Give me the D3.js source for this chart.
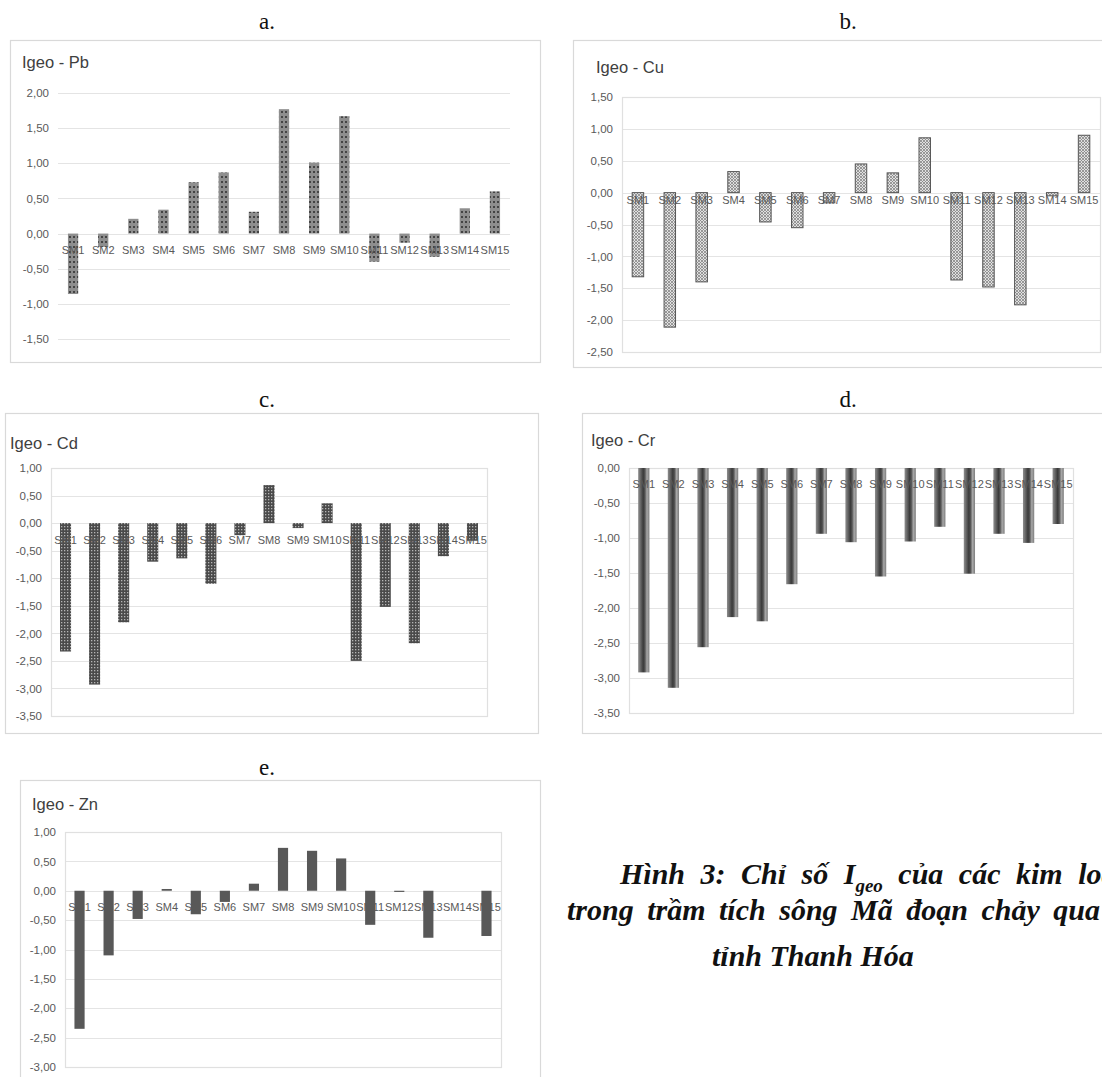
<!DOCTYPE html>
<html><head><meta charset="utf-8">
<script src="https://cdn.jsdelivr.net/npm/d3@7/dist/d3.min.js"></script>
<style>
html,body{margin:0;padding:0;background:#fff;}
svg{display:block;}
</style></head>
<body>
<svg id="chart" width="1102" height="1077"></svg>
<script>
// ---------- DATA ----------
const categories = ["SM1","SM2","SM3","SM4","SM5","SM6","SM7","SM8","SM9","SM10","SM11","SM12","SM13","SM14","SM15"];
const pbValues = [-0.86,-0.19,0.21,0.34,0.73,0.87,0.31,1.77,1.01,1.67,-0.40,-0.13,-0.33,0.36,0.60];
const cuValues = [-1.32,-2.11,-1.40,0.33,-0.46,-0.55,-0.16,0.45,0.31,0.86,-1.37,-1.48,-1.76,-0.05,0.90];
const cdValues = [-2.33,-2.93,-1.80,-0.70,-0.64,-1.10,-0.22,0.69,-0.09,0.36,-2.50,-1.52,-2.18,-0.60,-0.32];
const crValues = [-2.92,-3.14,-2.56,-2.13,-2.19,-1.66,-0.94,-1.06,-1.55,-1.05,-0.84,-1.51,-0.94,-1.07,-0.80];
const znValues = [-2.35,-1.10,-0.48,0.03,-0.40,-0.19,0.12,0.73,0.68,0.55,-0.58,-0.02,-0.80,0.00,-0.77];
const pbTicks = [2,1.5,1,0.5,0,-0.5,-1,-1.5];
const cuTicks = [1.5,1,0.5,0,-0.5,-1,-1.5,-2,-2.5];
const cdTicks = [1,0.5,0,-0.5,-1,-1.5,-2,-2.5,-3,-3.5];
const crTicks = [0,-0.5,-1,-1.5,-2,-2.5,-3,-3.5];
const znTicks = [1,0.5,0,-0.5,-1,-1.5,-2,-2.5,-3];
const titles = ["Igeo - Pb","Igeo - Cu","Igeo - Cd","Igeo - Cr","Igeo - Zn"];
const panelLetters = ["a.","b.","c.","d.","e."];

// ---------- DRAW ----------
const svg = d3.select("#chart");
const defs = svg.append("defs");

const pPb = defs.append("pattern").attr("id","patPb").attr("patternUnits","userSpaceOnUse").attr("width",4).attr("height",5);
pPb.append("rect").attr("width",4).attr("height",5).attr("fill","#8e8e8e");
pPb.append("rect").attr("x",1).attr("y",1).attr("width",2).attr("height",2).attr("fill","#444");

const pCu = defs.append("pattern").attr("id","patCu").attr("patternUnits","userSpaceOnUse").attr("width",3).attr("height",3);
pCu.append("rect").attr("width",3).attr("height",3).attr("fill","#e0e0e0");
pCu.append("path").attr("d","M0,0L3,3M3,0L0,3").attr("stroke","#858585").attr("stroke-width",0.8);

const pCd = defs.append("pattern").attr("id","patCd").attr("patternUnits","userSpaceOnUse").attr("width",3).attr("height",3);
pCd.append("rect").attr("width",3).attr("height",3).attr("fill","#4a4a4a");
pCd.append("rect").attr("x",1).attr("y",1).attr("width",1.3).attr("height",1.3).attr("fill","#b5b5b5");

const gCr = defs.append("linearGradient").attr("id","gradCr").attr("x1","0").attr("x2","1").attr("y1","0").attr("y2","0");
[[0,"#8e8e8e"],[0.2,"#6a6a6a"],[0.45,"#3a3a3a"],[0.6,"#555"],[0.78,"#a8a8a8"],[1,"#7d7d7d"]].forEach(s=>
  gCr.append("stop").attr("offset",s[0]).attr("stop-color",s[1]));

const panels = [
  {values:pbValues, ticks:pbTicks, frame:[10,40,530,322], titleXY:[22,68], px:[58,510], py:[93,339], letterXY:[267,29], fill:"url(#patPb)", stroke:"none", labOff:22, pad:0.66, border:false},
  {values:cuValues, ticks:cuTicks, frame:[573,40,540,327], titleXY:[596,73], px:[622,1100], py:[97,352], letterXY:[848,29], fill:"url(#patCu)", stroke:"#555", labOff:13, pad:0.64, border:true},
  {values:cdValues, ticks:cdTicks, frame:[5,413,533,320], titleXY:[10,449], px:[51,487], py:[468,716], letterXY:[267,407], fill:"url(#patCd)", stroke:"none", labOff:22, pad:0.62, border:true},
  {values:crValues, ticks:crTicks, frame:[582,413,530,320], titleXY:[591,446], px:[629,1073], py:[468,713], letterXY:[848,407], fill:"url(#gradCr)", stroke:"none", labOff:21, pad:0.62, border:true},
  {values:znValues, ticks:znTicks, frame:[20,780,520,310], titleXY:[32,810], px:[65,501], py:[832,1067], letterXY:[267,775], fill:"#585858", stroke:"none", labOff:21, pad:0.65, border:true}
];

panels.forEach((p,i)=>{
  const g = svg.append("g");
  svg.append("text").attr("x",p.letterXY[0]).attr("y",p.letterXY[1]).attr("text-anchor","middle")
    .attr("font-family","'Liberation Serif','Times New Roman',serif").attr("font-size",23).attr("fill","#111").text(panelLetters[i]);
  g.append("rect").attr("x",p.frame[0]+0.5).attr("y",p.frame[1]+0.5).attr("width",p.frame[2]).attr("height",p.frame[3])
    .attr("fill","#fff").attr("stroke","#d9d9d9").attr("stroke-width",1.2);
  g.append("text").attr("x",p.titleXY[0]).attr("y",p.titleXY[1]).attr("font-family","'Liberation Sans',Arial,sans-serif")
    .attr("font-size",16.5).attr("fill","#404040").text(titles[i]);

  const y = d3.scaleLinear().domain([p.ticks[p.ticks.length-1], p.ticks[0]]).range([p.py[1], p.py[0]]);
  const x = d3.scaleBand().domain(categories).range(p.px).paddingInner(p.pad).paddingOuter(p.pad/2);

  g.append("g").selectAll("line").data(p.ticks).join("line")
    .attr("x1",p.px[0]).attr("x2",p.px[1]).attr("y1",d=>Math.round(y(d))+0.5).attr("y2",d=>Math.round(y(d))+0.5)
    .attr("stroke","#e4e4e4").attr("stroke-width",1.2);
  if(p.border){
    g.append("rect").attr("x",p.px[0]+0.5).attr("y",y(p.ticks[0])+0.5).attr("width",p.px[1]-p.px[0]).attr("height",y(p.ticks[p.ticks.length-1])-y(p.ticks[0]))
      .attr("fill","none").attr("stroke","#e0e0e0").attr("stroke-width",1.2);
  }

  const yAxis = d3.axisLeft(y).tickValues(p.ticks).tickSize(0).tickPadding(9)
    .tickFormat(d=>d3.format(".2f")(d).replace(".",",").replace("−","-"));
  const ya = g.append("g").attr("transform",`translate(${p.px[0]},0)`).call(yAxis);
  ya.select(".domain").remove();
  ya.selectAll("text").attr("font-family","'Liberation Sans',Arial,sans-serif").attr("font-size",11.5).attr("fill","#595959");

  g.append("g").selectAll("rect").data(p.values).join("rect")
    .attr("x",(d,j)=>x(categories[j]))
    .attr("width",x.bandwidth())
    .attr("y",d=>y(Math.max(0,d)))
    .attr("height",d=>Math.abs(y(d)-y(0)))
    .attr("fill",p.fill).attr("stroke",p.stroke).attr("stroke-width",p.stroke==="none"?0:1);

  const xAxis = d3.axisBottom(x).tickSize(0).tickPadding(p.labOff-9);
  const xa = g.append("g").attr("transform",`translate(0,${y(0)})`).call(xAxis);
  xa.select(".domain").remove();
  xa.selectAll("text").attr("font-family","'Liberation Sans',Arial,sans-serif").attr("font-size",11).attr("fill","#595959");
});

// caption (clipped at the right edge as in the source figure)
const cap = svg.append("text").attr("font-family","'Liberation Serif','Times New Roman',serif")
  .attr("font-weight","bold").attr("font-style","italic").attr("font-size",30).attr("fill","#111");
const l1 = cap.append("tspan").attr("x",620).attr("y",884).attr("word-spacing",8);
l1.append("tspan").text("Hình 3: Chỉ số I");
l1.append("tspan").attr("font-size",19).attr("dy",8).text("geo");
l1.append("tspan").attr("dy",-8).text(" của các kim loại");
cap.append("tspan").attr("x",567).attr("y",920).attr("word-spacing",6).text("trong trầm tích sông Mã đoạn chảy qua");
cap.append("tspan").attr("x",712).attr("y",966).text("tỉnh Thanh Hóa");
</script>
</body></html>
